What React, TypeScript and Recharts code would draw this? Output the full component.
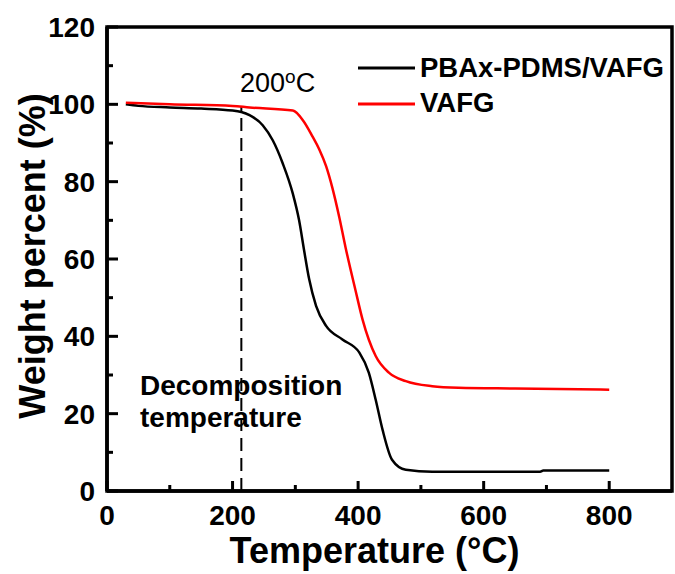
import { LineChart, Line, XAxis, YAxis, ReferenceLine, ReferenceArea, Legend } from 'recharts';

const FONT = '"Liberation Sans", Arial, sans-serif';

// PBAx-PDMS/VAFG membrane
const hybridTemps = [30, 50, 100, 150, 200, 214, 227, 248, 264, 280, 296, 306, 314, 322, 333, 349, 375, 402, 417, 428, 439, 454, 476, 518, 600, 690, 695, 800];
const hybridWeights = [100, 99.6, 99.2, 98.9, 98.4, 98.0, 97.2, 94.6, 90.7, 84.7, 76.9, 70.0, 62.2, 54.8, 47.9, 42.7, 39.2, 35.8, 30.6, 23.6, 15.8, 8.1, 5.5, 5.0, 5.0, 5.0, 5.3, 5.3];

// VAFG filler
const vafgTemps = [30, 100, 200, 227, 296, 312, 327, 338, 349, 359, 370, 380, 396, 407, 428, 449, 476, 518, 560, 650, 800];
const vafgWeights = [100.4, 100.0, 99.6, 99.2, 98.4, 95.9, 91.8, 88.4, 84.0, 78.4, 70.8, 63.0, 51.8, 44.4, 34.9, 30.6, 28.4, 27.1, 26.7, 26.5, 26.2];

const xTicks = [0, 100, 200, 300, 400, 500, 600, 700, 800];
const yTicks = [0, 10, 20, 30, 40, 50, 60, 70, 80, 90, 100, 110, 120];
const decompTemp = 214;

const hybridData = hybridTemps.map((t, i) => ({ t, w: hybridWeights[i] }));
const vafgData = vafgTemps.map((t, i) => ({ t, w: vafgWeights[i] }));

const XTick = ({ x, y, payload }: any) => {
  const major = payload.value % 200 === 0;
  return (
    <g>
      <line x1={x} x2={x} y1={y} y2={y - (major ? 10 : 6)} stroke="#000" strokeWidth={3} />
      {major && (
        <text x={x} y={y + 34} textAnchor="middle" fontFamily={FONT} fontWeight="bold" fontSize={28} fill="#000">
          {payload.value}
        </text>
      )}
    </g>
  );
};

const YTick = ({ x, y, payload }: any) => {
  const major = payload.value % 20 === 0;
  return (
    <g>
      <line x1={x} x2={x + (major ? 11 : 6)} y1={y} y2={y} stroke="#000" strokeWidth={3} />
      {major && (
        <text x={x - 12} y={y} dy="0.36em" textAnchor="end" fontFamily={FONT} fontWeight="bold" fontSize={28} fill="#000">
          {payload.value}
        </text>
      )}
    </g>
  );
};

const XTitle = ({ viewBox }: any) => (
  <text x={viewBox.x + viewBox.width / 2 - 15} y={viewBox.y + 72} textAnchor="middle" fontFamily={FONT} fontWeight="bold" fontSize={36} fill="#000">
    Temperature (°C)
  </text>
);

const YTitle = ({ viewBox }: any) => {
  const cx = viewBox.x + 45;
  const cy = viewBox.y + viewBox.height / 2 - 3;
  return (
    <text x={cx} y={cy} transform={`rotate(-90 ${cx} ${cy})`} textAnchor="middle" fontFamily={FONT} fontWeight="bold" fontSize={36} fill="#000">
      Weight percent (%)
    </text>
  );
};

const LegendBox = ({ payload }: any) => (
  <svg width={330} height={80}>
    {(payload || []).map((p: any, i: number) => (
      <g key={p.value}>
        <line x1={18} x2={75} y1={28 + i * 36} y2={28 + i * 36} stroke={p.color} strokeWidth={3} />
        <text x={80} y={37 + i * 35} fontFamily={FONT} fontWeight="bold" fontSize={27.5} fill="#000">
          {p.value}
        </text>
      </g>
    ))}
  </svg>
);

export default function App() {
  return (
    <div style={{ position: 'absolute', left: 0, top: 0, width: 675, height: 574, background: '#fff' }}>
      <LineChart width={675} height={574} margin={{ top: 27, right: 3, bottom: 0, left: 0 }}>
        <XAxis
          dataKey="t"
          type="number"
          domain={[0, 900]}
          ticks={xTicks}
          interval={0}
          height={83}
          tickSize={0}
          tickMargin={0}
          tickLine={false}
          axisLine={{ stroke: '#000', strokeWidth: 3.5 }}
          tick={<XTick />}
          label={<XTitle />}
          allowDataOverflow
        />
        <YAxis
          type="number"
          domain={[0, 120]}
          ticks={yTicks}
          interval={0}
          width={107}
          tickSize={0}
          tickMargin={0}
          tickLine={false}
          axisLine={{ stroke: '#000', strokeWidth: 3.5 }}
          tick={<YTick />}
          label={<YTitle />}
          allowDataOverflow
        />
        <ReferenceArea x1={0} x2={900} y1={0} y2={120} fill="none" stroke="#000" strokeWidth={3.5} ifOverflow="visible" />
        <ReferenceLine
          segment={[{ x: decompTemp, y: 0 }, { x: decompTemp, y: 99.5 }]}
          stroke="#000"
          strokeWidth={2}
          strokeDasharray="13 7"
        />
        <Line data={hybridData} dataKey="w" name="PBAx-PDMS/VAFG" type="monotone" stroke="#000" strokeWidth={2.5} dot={false} isAnimationActive={false} />
        <Line data={vafgData} dataKey="w" name="VAFG" type="monotone" stroke="#ff0000" strokeWidth={2.5} dot={false} isAnimationActive={false} />
        <Legend
          layout="vertical"
          align="center"
          verticalAlign="middle"
          content={<LegendBox />}
          wrapperStyle={{ left: 340, top: 40, width: 330, height: 80 }}
        />
      </LineChart>
      <svg width={675} height={574} style={{ position: 'absolute', left: 0, top: 0, pointerEvents: 'none' }}>
        <text x={240} y={92} fontFamily={FONT} fontSize={27} fill="#000">
          200
          <tspan fontSize={19} dy={-9}>o</tspan>
          <tspan fontSize={27} dy={9}>C</tspan>
        </text>
        <text fontFamily={FONT} fontWeight="bold" fontSize={28} fill="#000">
          <tspan x={140} y={395}>Decomposition</tspan>
          <tspan x={140} y={427}>temperature</tspan>
        </text>
      </svg>
    </div>
  );
}
